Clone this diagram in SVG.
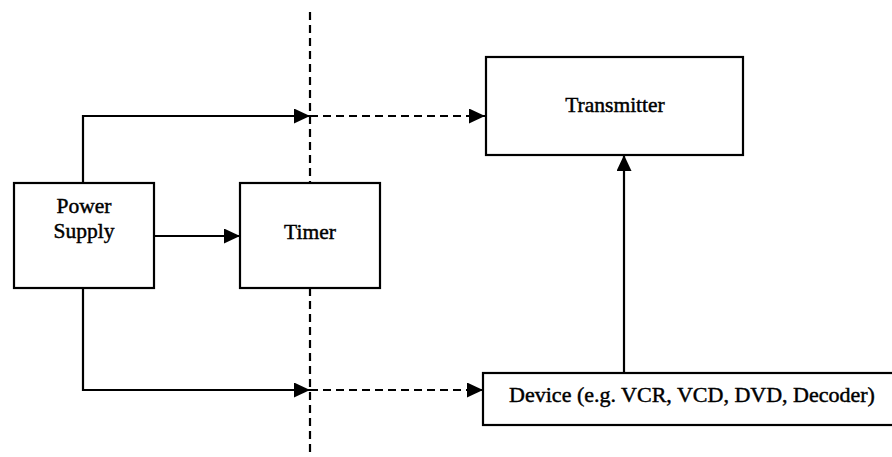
<svg xmlns="http://www.w3.org/2000/svg" width="892" height="457" viewBox="0 0 892 457">
  <defs>
    <style>
      .box { fill: #ffffff; stroke: #000000; stroke-width: 2.2; }
      .label { font-family: "Liberation Serif", "Times New Roman", serif; font-size: 21.5px; fill: #000000; stroke: #000000; stroke-width: 0.45; text-anchor: middle; }
      .solid { fill: none; stroke: #000000; stroke-width: 2.2; }
      .dash { fill: none; stroke: #000000; stroke-width: 2.2; stroke-dasharray: 8 5; }
    </style>
    <marker id="arrow" viewBox="0 0 16 15" refX="16" refY="7.5" markerWidth="16" markerHeight="15" markerUnits="userSpaceOnUse" orient="auto">
      <path d="M0,0 L16,7.5 L0,15 Z" fill="#000000"/>
    </marker>
  </defs>
  <rect width="892" height="457" fill="#ffffff"/>

  <g id="connectors">
    <!-- timer boundary (dashed vertical) -->
    <line class="dash" x1="310" y1="12" x2="310" y2="183"/>
    <line class="dash" x1="310" y1="288" x2="310" y2="457"/>
    <!-- power supply to transmitter path -->
    <polyline class="solid" points="83,183 83,116 310,116" marker-end="url(#arrow)"/>
    <line class="dash" x1="310" y1="116" x2="485" y2="116" marker-end="url(#arrow)"/>
    <!-- power supply to timer -->
    <line class="solid" x1="154" y1="236" x2="240" y2="236" marker-end="url(#arrow)"/>
    <!-- power supply to device path -->
    <polyline class="solid" points="83,288 83,390 310,390" marker-end="url(#arrow)"/>
    <line class="dash" x1="310" y1="390" x2="483" y2="390" marker-end="url(#arrow)"/>
    <!-- device to transmitter -->
    <line class="solid" x1="624" y1="373" x2="624" y2="155" marker-end="url(#arrow)"/>
  </g>

  <g id="power-supply">
    <rect class="box" x="14" y="183" width="140" height="105"/>
    <text class="label" x="84" y="213">Power</text>
    <text class="label" x="84" y="238">Supply</text>
  </g>

  <g id="timer">
    <rect class="box" x="240" y="183" width="140" height="105"/>
    <text class="label" x="310" y="239">Timer</text>
  </g>

  <g id="transmitter">
    <rect class="box" x="486" y="57" width="257" height="98"/>
    <text class="label" x="615" y="112">Transmitter</text>
  </g>

  <g id="device">
    <rect class="box" x="483" y="373" width="420" height="52"/>
    <text class="label" x="692" y="402" style="font-size:22px">Device (e.g. VCR, VCD, DVD, Decoder)</text>
  </g>
</svg>
